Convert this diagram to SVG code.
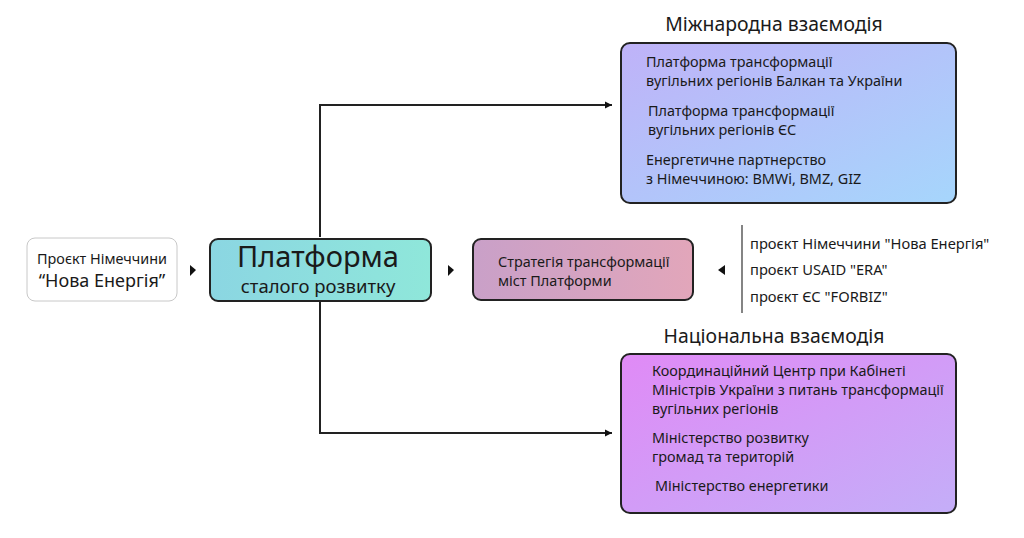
<svg xmlns="http://www.w3.org/2000/svg" width="1024" height="538" viewBox="0 0 1024 538">
<defs>
<linearGradient id="gTeal" x1="0" y1="0" x2="1" y2="0"><stop offset="0" stop-color="#8bd6e2"/><stop offset="1" stop-color="#8fe7da"/></linearGradient>
<linearGradient id="gPink" x1="0" y1="0" x2="1" y2="0"><stop offset="0" stop-color="#c9a0c8"/><stop offset="1" stop-color="#e2a6ba"/></linearGradient>
<linearGradient id="gTop" x1="0" y1="0" x2="1" y2="1"><stop offset="0" stop-color="#bfb2f8"/><stop offset="1" stop-color="#a6d6fc"/></linearGradient>
<linearGradient id="gBot" x1="0" y1="0" x2="1" y2="1"><stop offset="0" stop-color="#e08af6"/><stop offset="1" stop-color="#c4aef8"/></linearGradient>
<marker id="arr" viewBox="0 0 10 10" refX="10" refY="5" markerWidth="7" markerHeight="10" markerUnits="userSpaceOnUse" orient="auto"><path d="M0,0 L10,5 L0,10 Z" fill="#111"/></marker>
</defs>
<style>
text{font-family:"Noto Sans","Open Sans",sans-serif;fill:#1a1a1a}
.s{font-size:14.4px}
.p{font-size:14.7px}
.t{font-size:19.4px}
.box{stroke:#222;stroke-width:2}
.ln{stroke:#222;stroke-width:2;fill:none}
.tri{fill:#111}
</style>
<rect width="1024" height="538" fill="#fff"/>
<g id="connectors">
<path class="ln" d="M320,237 V105 H612" marker-end="url(#arr)"/>
<path class="ln" d="M320,302 V433 H612" marker-end="url(#arr)"/>
<path class="tri" d="M190,265 L196,270 L190,276 Z"/>
<path class="tri" d="M448,265 L454,270 L448,276 Z"/>
<path class="tri" d="M725,265 L718,270 L725,275 Z"/>
<line x1="742" y1="225" x2="742" y2="313" stroke="#333" stroke-width="1.2"/>
</g>
<g id="node-project">
<rect x="27" y="238" width="150" height="63" rx="8" fill="#fff" stroke="#c8c8c8" stroke-width="1"/>
<text class="s" x="102" y="264" text-anchor="middle">Проєкт Німеччини</text>
<text x="102" y="287" text-anchor="middle" font-size="18">“Нова Енергія”</text>
</g>
<g id="node-platform">
<rect class="box" x="210" y="239" width="221" height="62" rx="8" fill="url(#gTeal)"/>
<text x="318" y="267" text-anchor="middle" font-size="29">Платформа</text>
<text x="318" y="293" text-anchor="middle" font-size="18.5">сталого розвитку</text>
</g>
<g id="node-strategy">
<rect class="box" x="473" y="239" width="220" height="61" rx="8" fill="url(#gPink)"/>
<text class="s" x="498" y="267">Стратегія трансформації</text>
<text class="s" x="498" y="286">міст Платформи</text>
</g>
<g id="node-projects">
<text class="p" x="750" y="249">проєкт Німеччини "Нова Енергія"</text>
<text class="p" x="750" y="275">проєкт USAID "ERA"</text>
<text class="p" x="750" y="302">проєкт ЄС "FORBIZ"</text>
</g>
<g id="node-international">
<text class="t" x="774" y="31" text-anchor="middle">Міжнародна взаємодія</text>
<rect class="box" x="621" y="43" width="335" height="160" rx="9" fill="url(#gTop)"/>
<text class="s" x="646" y="67">Платформа трансформації</text>
<text class="s" x="646" y="86">вугільних регіонів Балкан та України</text>
<text class="s" x="648" y="116">Платформа трансформації</text>
<text class="s" x="648" y="135">вугільних регіонів ЄС</text>
<text class="s" x="646" y="165">Енергетичне партнерство</text>
<text class="s" x="646" y="184">з Німеччиною: BMWi, BMZ, GIZ</text>
</g>
<g id="node-national">
<text class="t" x="774" y="343" text-anchor="middle">Національна взаємодія</text>
<rect class="box" x="621" y="354" width="335" height="159" rx="9" fill="url(#gBot)"/>
<text class="s" x="652" y="376">Координаційний Центр при Кабінеті</text>
<text class="s" x="652" y="395">Міністрів України з питань трансформації</text>
<text class="s" x="652" y="414">вугільних регіонів</text>
<text class="s" x="652" y="443">Міністерство розвитку</text>
<text class="s" x="652" y="462">громад та територій</text>
<text class="s" x="655" y="491">Міністерство енергетики</text>
</g>
</svg>
